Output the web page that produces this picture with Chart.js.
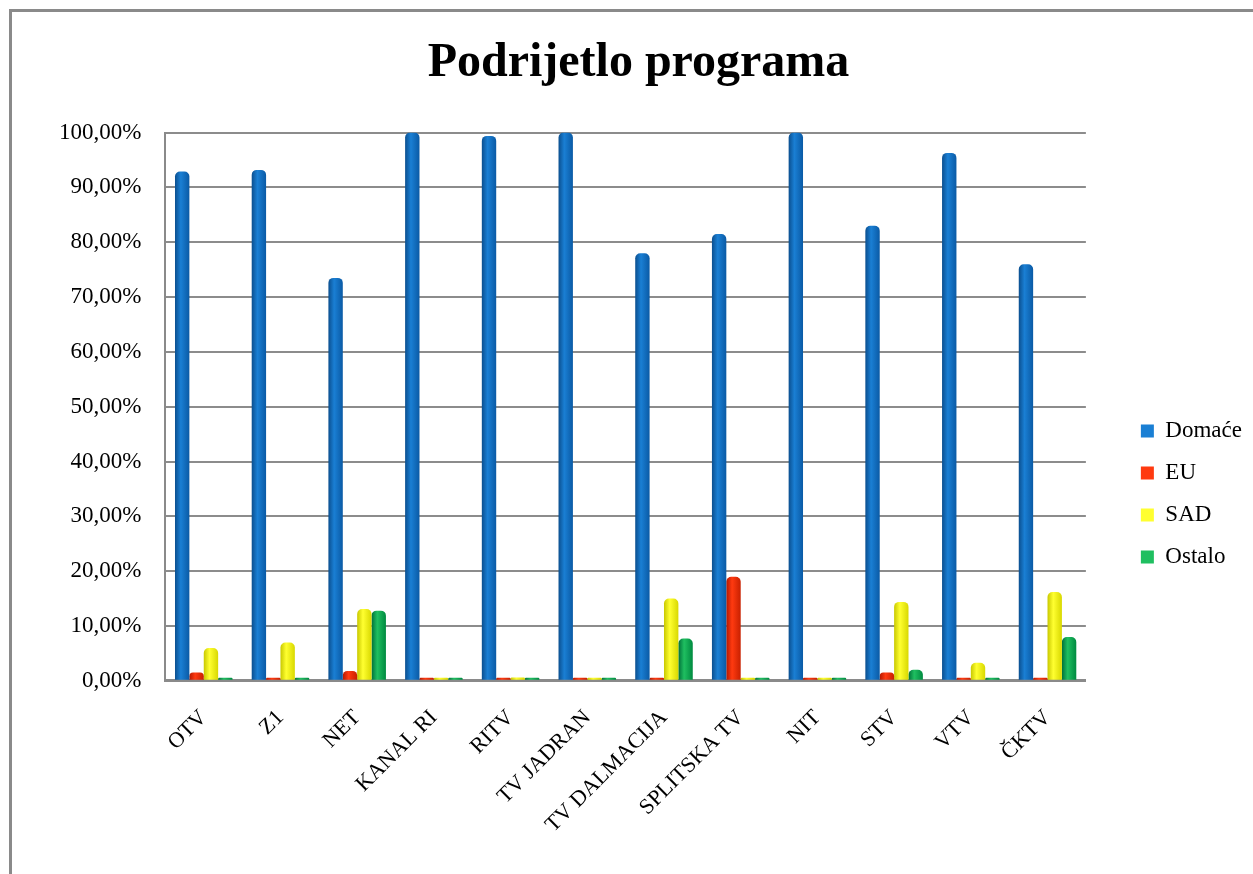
<!DOCTYPE html>
<html>
<head>
<meta charset="utf-8">
<script src="https://cdn.jsdelivr.net/npm/chart.js@4/dist/chart.umd.min.js"></script>
<style>
  html, body { margin: 0; padding: 0; background: #fff; }
  #frame { position: absolute; left: 9px; top: 9px; width: 1300px; height: 900px;
           border-left: 3px solid #8a8a8a; border-top: 3px solid #8a8a8a; }
  #wrap { position: absolute; left: 0; top: 0; width: 1253px; height: 874px; }
</style>
</head>
<body>
<div id="frame"></div>
<div id="wrap"><canvas id="barCanvas"></canvas></div>
<script>
// Podrijetlo programa
const kanali = ["OTV", "Z1", "NET", "KANAL RI", "RITV", "TV JADRAN", "TV DALMACIJA",
                "SPLITSKA TV", "NIT", "STV", "VTV", "ČKTV"];

const domace = [92.9, 93.2, 73.5, 100, 99.4, 100, 78.0, 81.5, 100, 83.0, 96.3, 76.0];
const eu     = [1.5, 0.2, 1.8, 0, 0, 0, 0.3, 19.0, 0, 1.5, 0.5, 0.5];
const sad    = [6.0, 7.0, 13.1, 0, 0.6, 0, 15.0, 0, 0, 14.4, 3.3, 16.2];
const ostalo = [0, 0.3, 12.8, 0, 0, 0, 7.7, 0, 0, 2.0, 0, 8.0];

const yTicks = [0, 10, 20, 30, 40, 50, 60, 70, 80, 90, 100];

const boje = {
    domace: ["#0b4f8f", "#1a7fd4", "#0a5aa5"],
    eu:     ["#b41800", "#ff3a10", "#c82000"],
    sad:    ["#c8c800", "#ffff30", "#d8d800"],
    ostalo: ["#00703a", "#1fbf60", "#008a40"]
};

function cilindar(b) {
    return function (context) {
        const el = context.element;
        if (!el || el.width === undefined || isNaN(el.x)) return b[1];
        const g = context.chart.ctx.createLinearGradient(el.x - el.width / 2, 0, el.x + el.width / 2, 0);
        g.addColorStop(0, b[0]);
        g.addColorStop(0.4, b[1]);
        g.addColorStop(1, b[2]);
        return g;
    };
}

// legenda malo desno i niže, naslov malo desno, kao u originalu
const pomakLegende = {
    id: "pomakLegende",
    afterLayout(chart) {
        const lg = chart.legend;
        lg.left += 36; lg.right += 36;
        lg.top += 67; lg.bottom += 67;
        const tb = chart.titleBlock;
        tb.left += 13; tb.right += 13;
    }
};

const serif = "'Liberation Serif', 'Times New Roman', serif";

const barChart = new Chart(document.getElementById("barCanvas"), {
    type: "bar",
    data: {
        labels: kanali,
        datasets: [
            { label: "Domaće", data: domace, backgroundColor: cilindar(boje.domace) },
            { label: "EU", data: eu, backgroundColor: cilindar(boje.eu) },
            { label: "SAD", data: sad, backgroundColor: cilindar(boje.sad) },
            { label: "Ostalo", data: ostalo, backgroundColor: cilindar(boje.ostalo) },
        ],
    },
    plugins: [pomakLegende],
    options: {
        responsive: true,
        maintainAspectRatio: false,
        animation: false,
        datasets: {
            bar: {
                categoryPercentage: 0.75,
                barPercentage: 1,
                borderRadius: { topLeft: 5, topRight: 5 },
                borderSkipped: "bottom",
                minBarLength: 3
            }
        },
        layout: { padding: { left: 35, right: 37, top: 0, bottom: 20 } },
        plugins: {
            title: {
                display: true,
                text: "Podrijetlo programa",
                color: "#000",
                font: { family: serif, size: 48, weight: "bold" },
                padding: { top: 35, bottom: 40 }
            },
            legend: {
                position: "right",
                labels: {
                    color: "#000",
                    font: { family: serif, size: 23 },
                    boxWidth: 13,
                    boxHeight: 13,
                    padding: 19,
                    generateLabels: function (chart) {
                        const cols = [boje.domace, boje.eu, boje.sad, boje.ostalo];
                        return chart.data.datasets.map((ds, i) => ({
                            text: ds.label,
                            fillStyle: cols[i][1],
                            strokeStyle: cols[i][1],
                            lineWidth: 0,
                            datasetIndex: i,
                            fontColor: "#000"
                        }));
                    }
                }
            },
            tooltip: { enabled: false }
        },
        scales: {
            x: {
                grid: { display: false },
                border: { display: true, color: "#8a8a8a", width: 3 },
                ticks: {
                    color: "#000",
                    font: { family: serif, size: 22 },
                    maxRotation: 45,
                    minRotation: 45,
                    autoSkip: false,
                    padding: 16
                }
            },
            y: {
                min: 0,
                max: 100,
                afterBuildTicks: function (axis) {
                    axis.ticks = yTicks.map(v => ({ value: v }));
                },
                grid: { color: "#8c8c8c", lineWidth: 2, drawTicks: false },
                border: { display: true, color: "#8a8a8a", width: 2 },
                ticks: {
                    color: "#000",
                    font: { family: serif, size: 23 },
                    padding: 24,
                    callback: v => v.toFixed(2).replace(".", ",") + "%"
                }
            }
        }
    }
});
barChart.update("none");
</script>
</body>
</html>
